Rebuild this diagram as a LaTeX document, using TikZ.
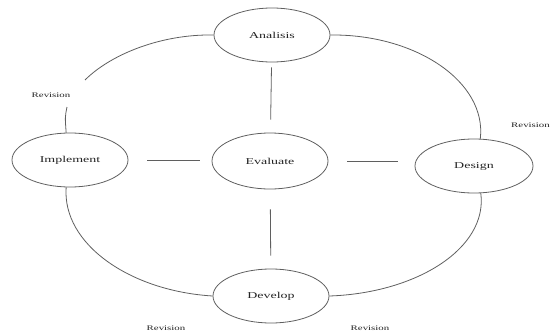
\documentclass[tikz,border=0pt]{standalone}
\usepackage{graphicx}
\usepackage{fontspec}
\setmainfont{Liberation Serif}
\usetikzlibrary{shapes.geometric}
\definecolor{linegray}{RGB}{95,95,95}
\definecolor{textgray}{RGB}{35,35,35}
\newcommand\widetext[2]{\scalebox{#1}[1]{#2}}
\begin{document}
\begin{tikzpicture}[x=1pt,y=-1pt,
  phase/.style={ellipse, draw=linegray, line width=0.8pt, minimum width=116pt,
    minimum height=54pt, inner sep=0pt, text=textgray, font=\fontsize{9}{10}\selectfont},
  link/.style={draw=linegray, line width=0.8pt},
  rev/.style={inner sep=0pt, text=textgray, font=\fontsize{7}{8}\selectfont}]
\useasboundingbox (0,0) rectangle (551,332);
\node[phase] (A) at (272,35) {\widetext{1.55}{Analisis}};
\node[phase, minimum height=56pt] (E) at (270,161) {\widetext{1.55}{Evaluate}};
\node[phase] (I) at (70,160) {\widetext{1.55}{Implement}};
\node[phase, minimum width=118pt] (D) at (474,166) {\widetext{1.55}{Design}};
\node[phase] (V) at (271,296) {\widetext{1.55}{Develop}};

\node[rev] (r1) at (51,95) {\widetext{1.55}{Revision}};
\node[rev, anchor=east] (r2) at (550,125) {\widetext{1.55}{Revision}};
\node[rev, anchor=south] (r3) at (166,331) {\widetext{1.55}{Revision}};
\node[rev, anchor=south] (r4) at (370,331) {\widetext{1.55}{Revision}};

\coordinate (c1) at (85,80);
\coordinate (c2) at (67,107);

% spokes
\draw[link, shorten <=5pt, shorten >=13pt] (A) -- (E);
\draw[link, shorten <=20pt, shorten >=13pt] (E) -- (V);
\draw[link, shorten <=19pt, shorten >=12pt] (I.east) -- (I.east -| E.west);
\draw[link, shorten <=19pt, shorten >=17pt] (E.east) -- (E.east -| D.west);

% outer cycle
\draw[link] (A.west) .. controls (160,34) and (110,55) .. (c1);
\draw[link] (c2) .. controls (65,117) .. (I.98);
\draw[link] (A.east) .. controls (416,34) and (487,82) .. (D.77);
\draw[link] (I.262) .. controls (62,244) and (130,291) .. (V.west);
\draw[link] (V.east) .. controls (417,293) and (488,248) .. (D.284);
\end{tikzpicture}
\end{document}
